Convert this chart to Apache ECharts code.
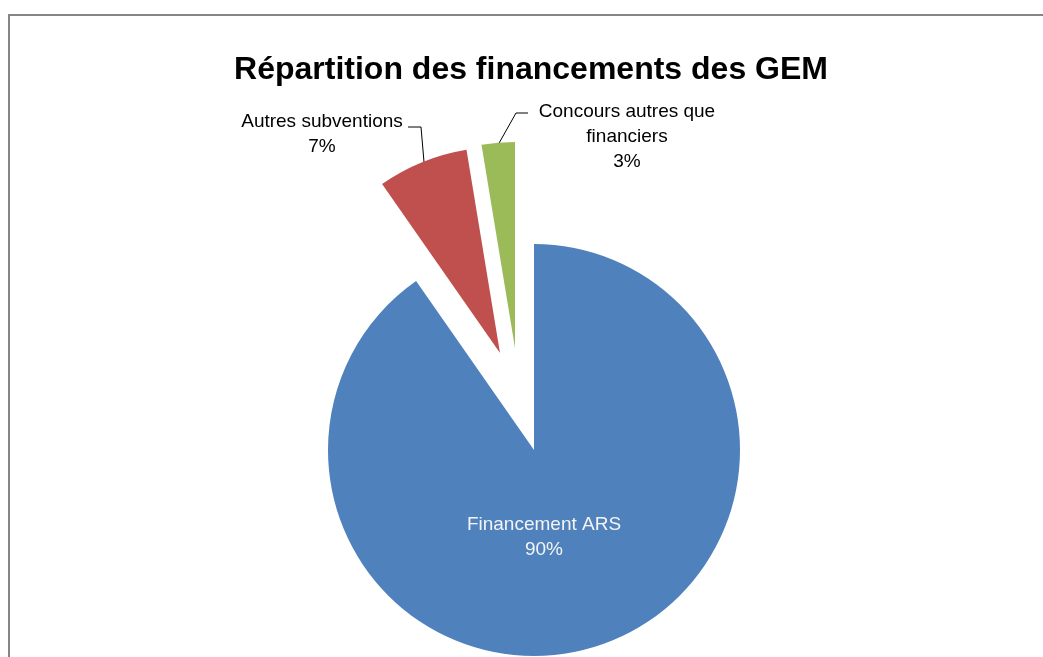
<!DOCTYPE html>
<html>
<head>
<meta charset="utf-8">
<script src="https://cdn.jsdelivr.net/npm/echarts@6/dist/echarts.min.js"></script>
<style>
  html, body { margin: 0; padding: 0; background: #fff; }
  #main { width: 1043px; height: 657px; }
</style>
</head>
<body>
<div id="main"></div>
<script>
  // données
  var categories = ['Financement ARS', 'Autres subventions', 'Concours autres que\nfinanciers'];
  var values = [90.3, 7.1, 2.6];
  var colors = ['#4F81BD', '#C0504D', '#9BBB59'];

  // décalage des parts éclatées (px) par rapport au centre du camembert
  var pieCenter = [534, 450];
  var explode = [[0, 0], [-34, -97], [-19, -102]];

  // placement des étiquettes (centre du bloc de texte) et lignes de rappel
  var labelPos = [[544, 537], [322, 134], [627, 137]];
  var leaderLines = [
    null,
    [[424, 162], [421, 127], [408, 127]],
    [[498, 145], [516, 113], [528, 113]]
  ];

  var myChart = echarts.init(document.getElementById('main'));

  // une série par part : les autres parts restent transparentes
  var series = categories.map(function (cat, k) {
    var data = categories.map(function (name, i) {
      var item = {
        name: name,
        value: values[i],
        itemStyle: { color: i === k ? colors[i] : 'rgba(0,0,0,0)' },
        label: { show: i === k },
        labelLine: { show: i === k && k !== 0 }
      };
      if (i === 0) {
        item.label.position = 'inside';
        item.label.color = '#f4f4f4';
      }
      return item;
    });
    return {
      type: 'pie',
      silent: true,
      center: [pieCenter[0] + explode[k][0], pieCenter[1] + explode[k][1]],
      radius: 206,
      startAngle: 90,
      clockwise: true,
      percentPrecision: 0,
      avoidLabelOverlap: false,
      itemStyle: { borderWidth: 0 },
      emphasis: { disabled: true },
      label: {
        position: 'outside',
        formatter: '{b}\n{d}%',
        fontFamily: 'Liberation Sans',
        fontSize: 19,
        lineHeight: 25,
        color: '#000',
        align: 'center'
      },
      labelLine: {
        lineStyle: { color: '#000', width: 1 }
      },
      labelLayout: function (params) {
        var i = params.dataIndex;
        var res = {
          x: labelPos[i][0],
          y: labelPos[i][1],
          align: 'center',
          verticalAlign: 'middle'
        };
        if (leaderLines[i]) {
          res.labelLinePoints = leaderLines[i];
        }
        return res;
      },
      data: data
    };
  });

  var option = {
    animation: false,
    backgroundColor: '#fff',
    title: {
      text: 'Répartition des financements des GEM',
      left: 531,
      top: 54,
      padding: 0,
      textAlign: 'center',
      textStyle: {
        fontFamily: 'Liberation Sans',
        fontSize: 32,
        fontWeight: 'bold',
        color: '#000'
      }
    },
    graphic: [{
      type: 'rect',
      shape: { x: 9, y: 15, width: 1100, height: 700 },
      style: { fill: 'none', stroke: '#868686', lineWidth: 2 },
      silent: true
    }],
    series: series
  };

  myChart.setOption(option);
</script>
</body>
</html>
